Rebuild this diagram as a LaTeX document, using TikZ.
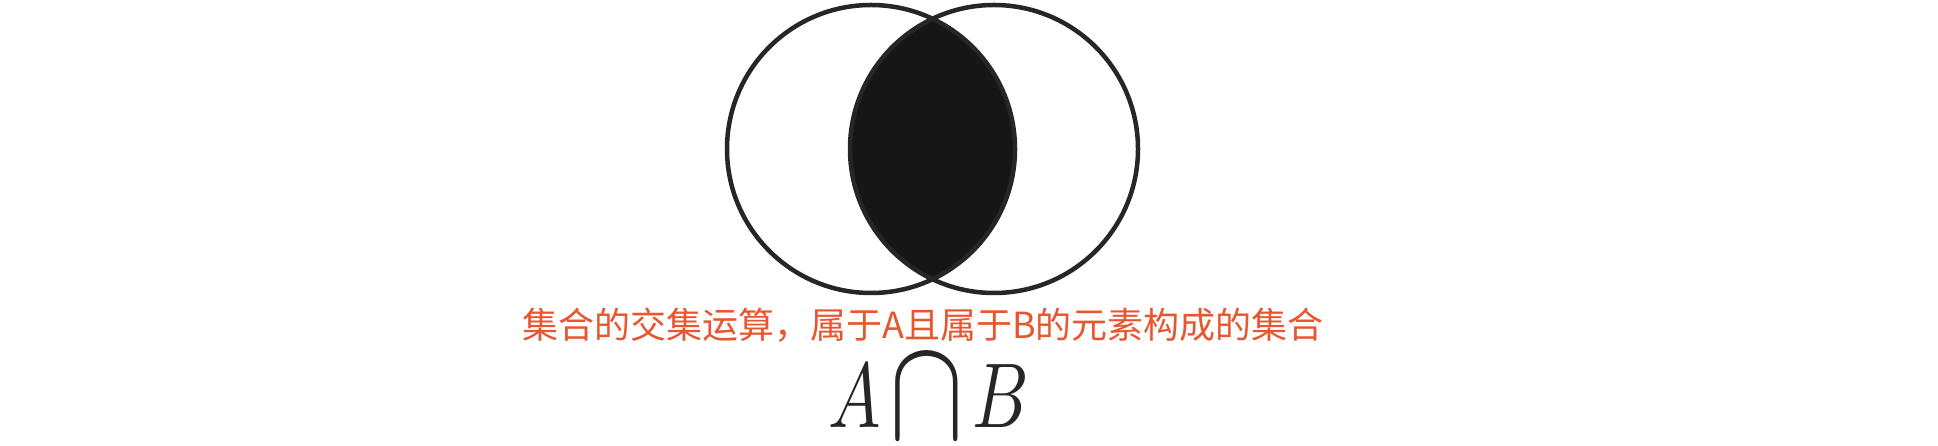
\documentclass[tikz,border=0pt]{standalone}
\usepackage{fontspec}
\usepackage{graphicx}
\newfontfamily\cjk{Noto Sans CJK SC}
\definecolor{capred}{RGB}{232,86,48}
\definecolor{lensfill}{RGB}{22,22,22}
\begin{document}
\begin{tikzpicture}[x=1pt,y=1pt,
  setcircle/.style={circle, draw=black!85, line width=4.5pt, minimum size=288pt, inner sep=0pt},
  captext/.style={font=\cjk\fontsize{36}{40}\selectfont, text=capred, inner sep=0pt},
  mathlabel/.style={text=black!85, inner sep=0pt, xscale=7.0, yscale=9.2, transform shape}]
\useasboundingbox (0,0) rectangle (1938,446);
\fill[white] (0,0) rectangle (1938,446);
\coordinate (ca) at (871,297);
\coordinate (cb) at (994,297);
\begin{scope}
  \clip (ca) circle (144);
  \fill[lensfill] (cb) circle (144);
\end{scope}
\node[setcircle] (A) at (ca) {};
\node[setcircle] (B) at (cb) {};
\node[captext] (cap) at (923,121) {集合的交集运算，属于A且属于B的元素构成的集合};
\node[mathlabel, anchor=base] (op) at (929,18) {$A\kern1.2pt\raisebox{-1.1pt}{\scalebox{1.6}{$\cap$}}\kern1.2pt B$};
\end{tikzpicture}
\end{document}
